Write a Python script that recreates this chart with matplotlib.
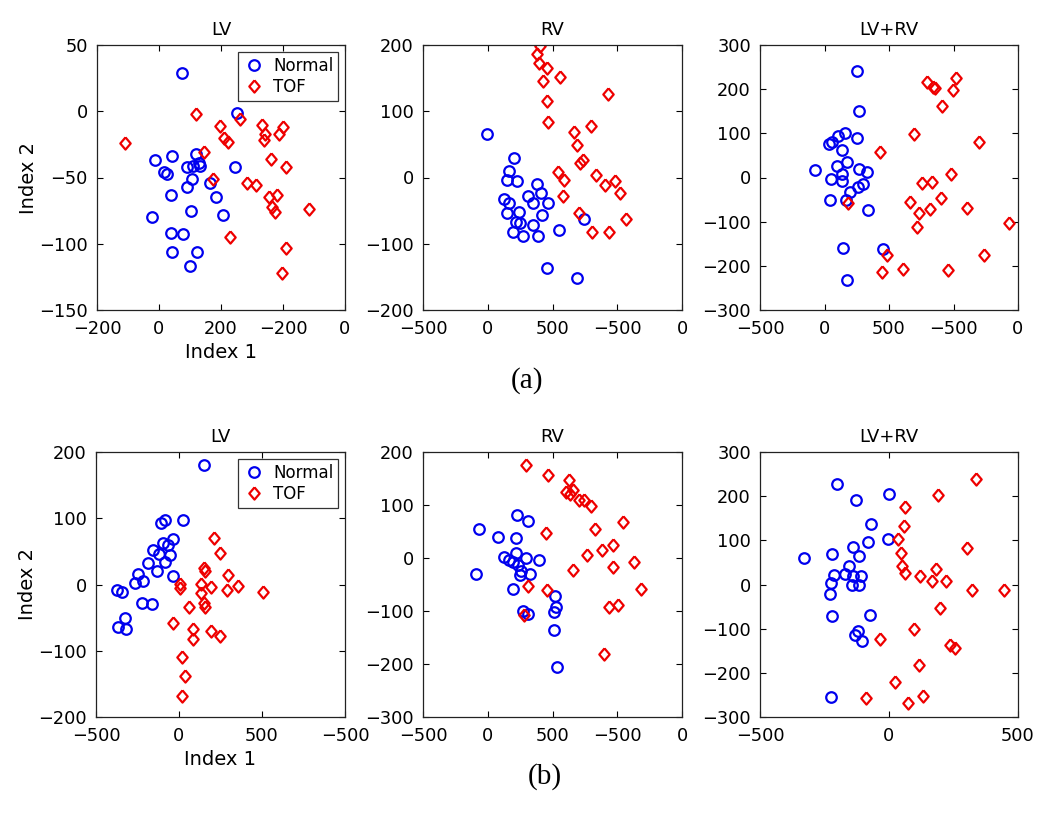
import numpy as np
import matplotlib; matplotlib.use("Agg"); import matplotlib.pyplot as plt

plt.rcParams['font.family'] = ['DejaVu Sans']

M = '\u2212'

# ---- (a) LV ----
a_lv_nor_x = [74, 253, -12, 15, 26, 42, 38, -23, 90, 106, 90, 118, 111, 131, 130, 163, 183, 206, 103, 38, 77, 42, 124, 101, 246]
a_lv_nor_y = [29, -1, -37, -46, -47, -34, -63, -80, -42, -51, -57, -32, -41, -41, -39, -54, -65, -78, -75, -92, -93, -106, -106, -117, -42]
a_lv_tof_x = [-109, 119, 146, 262, 196, 211, 224, 173, 230, 285, 312, 332, 342, 339, 362, 356, 380, 364, 375, 386, 399, 410, 410, 396, 484]
a_lv_tof_y = [-24, -2, -31, -6, -11, -20, -23, -51, -95, -54, -56, -10, -17, -22, -36, -65, -63, -72, -76, -17, -12, -42, -103, -122, -74]

# ---- (a) RV ----
a_rv_nor_x = [-4, 202, 166, 150, 223, 125, 166, 145, 243, 218, 249, 197, 269, 313, 378, 352, 409, 468, 416, 347, 391, 551, 747, 455, 687]
a_rv_nor_y = [66, 29, 10, -4, -5, -33, -39, -54, -52, -67, -69, -82, -88, -28, -10, -38, -24, -38, -56, -72, -89, -79, -63, -136, -152]
a_rv_tof_x = [403, 378, 396, 455, 424, 558, 455, 468, 669, 687, 796, 734, 713, 925, 545, 589, 584, 708, 803, 837, 902, 984, 1023, 940, 1067]
a_rv_tof_y = [198, 187, 173, 166, 146, 151, 116, 84, 69, 49, 78, 27, 22, 126, 9, -4, -28, -53, -82, 4, -12, -5, -24, -83, -62]

# ---- (a) LV+RV ----
a_bv_nor_x = [249, 267, 158, 249, 107, 55, 37, 133, -74, 94, 176, 50, 138, 133, 267, 326, 300, 261, 197, 42, 339, 140, 176, 455, 163]
a_bv_nor_y = [241, 151, 100, 90, 93, 81, 75, 62, 16, 25, 36, -4, 8, -7, 19, 12, -15, -21, -32, -51, -74, -159, -231, -162, -52]
a_bv_tof_x = [429, 692, 796, 842, 855, 907, 1023, 997, 1196, 984, 752, 834, 661, 734, 821, 901, 718, 1105, 1428, 184, 486, 442, 605, 958, 1235]
a_bv_tof_y = [57, 98, 217, 206, 202, 162, 225, 198, 80, 8, -12, -11, -55, -80, -72, -46, -113, -70, -104, -57, -176, -215, -208, -209, -176]

# ---- (b) LV ----
b_lv_nor_x = [153, 22, -108, -84, -38, -155, -94, -64, -119, -54, -84, -185, -135, -245, -265, -215, -38, -225, -165, -376, -341, -325, -366, -319]
b_lv_nor_y = [180, 98, 93, 97, 69, 52, 62, 59, 46, 45, 34, 32, 21, 16, 2, 6, 13, -28, -30, -9, -11, -51, -64, -67]
b_lv_tof_x = [211, 247, 151, 157, 293, 6, 6, 133, 193, 357, 508, 287, 133, 151, 157, 62, -34, 87, 83, 193, 249, 16, 36, 16]
b_lv_tof_y = [70, 48, 25, 20, 14, 1, -6, 1, -4, -3, -11, -9, -13, -28, -34, -34, -58, -67, -82, -70, -78, -110, -138, -168]

# ---- (b) RV ----
b_rv_nor_x = [-69, -87, 81, 223, 313, 215, 125, 166, 218, 197, 236, 256, 249, 292, 326, 396, 197, 269, 313, 520, 527, 512, 512, 538]
b_rv_nor_y = [55, -30, 40, 82, 69, 38, 2, -3, 9, -8, -14, -25, -33, 0, -30, -4, -58, -100, -106, -72, -92, -102, -135, -206]
b_rv_tof_x = [292, 468, 631, 605, 636, 662, 708, 747, 796, 450, 829, 1043, 765, 881, 971, 1126, 656, 964, 313, 455, 1183, 940, 1002, 894, 280]
b_rv_tof_y = [176, 156, 147, 125, 121, 128, 110, 110, 99, 47, 55, 67, 5, 16, 25, -8, -23, -17, -53, -60, -58, -92, -89, -181, -107]

# ---- (b) LV+RV ----
b_bv_nor_x = [-203, -126, 1, -68, -81, -3, -330, -219, -141, -116, -154, -212, -171, -141, -107, -225, -145, -117, -229, -219, -74, -119, -130, -103, -223]
b_bv_nor_y = [227, 191, 204, 138, 96, 104, 59, 68, 85, 65, 41, 22, 23, 19, 19, 3, -2, -2, -22, -72, -70, -105, -115, -128, -255]
b_bv_tof_x = [339, 188, 61, 57, 36, 48, 52, 61, 119, 181, 167, 219, 304, 322, 445, 199, 97, -36, 235, 255, 116, 25, -90, 74, 132]
b_bv_tof_y = [240, 203, 176, 133, 102, 71, 41, 25, 19, 34, 8, 7, 83, -12, -13, -53, -100, -123, -136, -143, -182, -221, -256, -268, -252]

PANELS = [
    ("LV",    a_lv_nor_x, a_lv_nor_y, a_lv_tof_x, a_lv_tof_y, (-200, 600), [-200, 0, 200, 400, 600], ['−200', '0', '200', '−200', '0'], (-150, 50), 50),
    ("RV",    a_rv_nor_x, a_rv_nor_y, a_rv_tof_x, a_rv_tof_y, (-500, 1500), [-500, 0, 500, 1000, 1500], ['−500', '0', '500', '−500', '0'], (-200, 200), 100),
    ("LV+RV", a_bv_nor_x, a_bv_nor_y, a_bv_tof_x, a_bv_tof_y, (-500, 1500), [-500, 0, 500, 1000, 1500], ['−500', '0', '500', '−500', '0'], (-300, 300), 100),
    ("LV",    b_lv_nor_x, b_lv_nor_y, b_lv_tof_x, b_lv_tof_y, (-500, 1000), [-500, 0, 500, 1000], ['−500', '0', '500', '−500'], (-200, 200), 100),
    ("RV",    b_rv_nor_x, b_rv_nor_y, b_rv_tof_x, b_rv_tof_y, (-500, 1500), [-500, 0, 500, 1000, 1500], ['−500', '0', '500', '−500', '0'], (-300, 200), 100),
    ("LV+RV", b_bv_nor_x, b_bv_nor_y, b_bv_tof_x, b_bv_tof_y, (-500, 500), [-500, 0, 500], ['−500', '0', '500'], (-300, 300), 100),
]

# axes boxes in pixels (left, top, right, bottom) for a 1050x814 figure
BOX = [(97, 45, 345, 310), (423, 45, 682, 310), (760, 45, 1018, 310),
       (96, 452, 345, 717), (423, 452, 682, 717), (760, 452, 1018, 717)]
W, H = 1050, 814
DIAMOND = [(0, 1), (0.85, 0), (0, -1), (-0.85, 0), (0, 1)]

fig = plt.figure(figsize=(W/100, H/100), dpi=100)
for i, (title, nx, ny, tx, ty, xl, xt, xlab, yl, ys) in enumerate(PANELS):
    l, t, r, b = BOX[i]
    ax = fig.add_axes([l/W, 1-b/H, (r-l)/W, (b-t)/H])
    ax.plot(nx, ny, ls='none', marker='o', ms=7.6, mfc='none', mec='#0000ee', mew=1.6, label='Normal')
    ax.plot(tx, ty, ls='none', marker=DIAMOND, ms=8.8, mfc='none', mec='#ee0000', mew=1.6, label='TOF')
    ax.set_xlim(*xl); ax.set_ylim(*yl)
    ax.set_xticks(xt); ax.set_xticklabels([s.replace('−', M) for s in xlab])
    ax.set_yticks(np.arange(yl[0], yl[1]+1, ys))
    ax.tick_params(direction='in', length=4, width=0.8, top=True, right=True, labelsize=12.8)
    ax.tick_params(axis='x', pad=7.5)
    ax.tick_params(axis='y', pad=6.5)
    for sp in ax.spines.values():
        sp.set_linewidth(0.9); sp.set_color('#222222')
    ax.set_title(title, fontsize=13, pad=7)
    if i % 3 == 0:
        ax.set_xlabel("Index 1", fontsize=14, labelpad=3)
        ax.set_ylabel("Index 2", fontsize=14, labelpad=1)
        lg = ax.legend(loc='upper right', fontsize=12, frameon=True, fancybox=False,
                       edgecolor='black', borderpad=0.3, handletextpad=0.5, labelspacing=0.2,
                       handlelength=1.3, borderaxespad=0.4)
        lg.get_frame().set_linewidth(0.9)

fig.text(527/W, 1-381/H, "(a)", family='Liberation Serif', fontsize=21, ha='center', va='center')
fig.text(545/W, 1-777/H, "(b)", family='Liberation Serif', fontsize=21, ha='center', va='center')

fig.savefig("out.png", dpi=100)
